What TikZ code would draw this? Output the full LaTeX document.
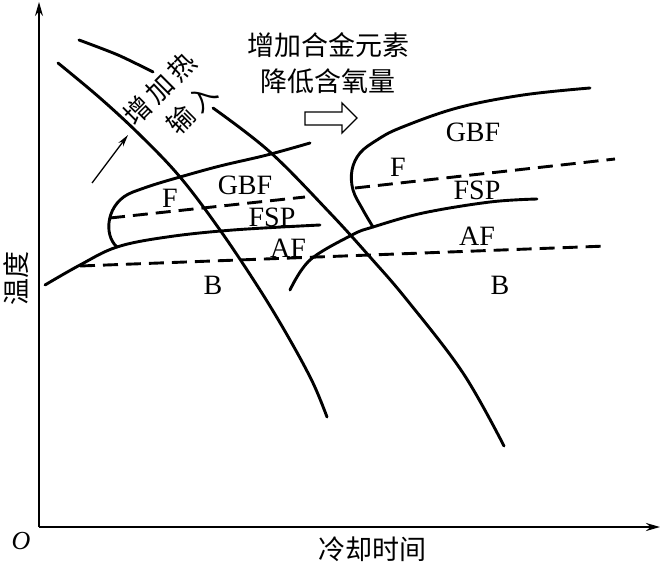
\documentclass[tikz,border=0pt]{standalone}
\usepackage{fontspec}
\setmainfont{Liberation Serif}
\newfontfamily\cjk{Noto Sans CJK SC}
\usetikzlibrary{arrows.meta}
\begin{document}
\begin{tikzpicture}[x=1pt,y=-1pt,
  curve/.style={line width=2.9pt,line cap=round,line join=round},
  dashline/.style={line width=2.9pt,dash pattern=on 15pt off 8pt},
  lab/.style={inner sep=0pt,font=\fontsize{28}{30}\selectfont},
  cjklab/.style={inner sep=0pt,font=\cjk\fontsize{27}{30}\selectfont},
  axis/.style={-{Stealth[length=14pt,width=8pt]}}]
\useasboundingbox (0,0) rectangle (660,564);
% axes
\coordinate (O) at (39,527);
\coordinate (ytop) at (39,2);
\coordinate (xend) at (660,527);
\draw[axis,line width=1.3pt] (O) -- (ytop);
\draw[axis,line width=2.2pt] (O) -- (xend);
\node[lab,font=\fontsize{26}{28}\selectfont\itshape] (olab) at (21,541) {O};
\node[cjklab] (xlab) at (372,549) {冷却时间};
\node[cjklab,rotate=90] (ylab) at (16,278) {温度};
% cooling curve 1
\draw[curve] plot[smooth,tension=0.6] coordinates {(58,63) (100,98) (140,135) (180,177) (220,230) (260,290) (290,340) (313,383) (327,417)};
% cooling curve 2
\draw[curve] plot[smooth] coordinates {(79,40) (118,55) (153,72)};
\draw[curve] plot[smooth,tension=0.6] coordinates {(213,108) (270,152) (330,213) (370,257) (407,300) (463,373) (504,446)};
% left loop
\draw[curve] plot[smooth,tension=0.6] coordinates {(310,143) (267,155) (220,166) (180,177) (153,185) (133,192)}
  .. controls (106,202) and (103,235) .. (117,247);
\draw[curve] plot[smooth,tension=0.6] coordinates {(45,285) (80,265) (117,247) (167,237) (233,230) (320,225)};
\draw[dashline] (110,218) -- (305,197);
\draw[dashline] (80,266) -- (607,246);
% right loop
\draw[curve] plot[smooth,tension=0.6] coordinates {(590,88) (523,95) (457,108) (400,128) (377,140) (360,153) (352,170) (353,190) (363,210) (373,227)};
\draw[curve] plot[smooth,tension=0.6] coordinates {(290,290) (310,260) (352,235) (373,227) (423,213) (490,202) (537,199)};
\draw[dashline] (355,188) -- (615,159);
% labels
\node[lab] (fL) at (170,198) {F};
\node[lab] (gbfL) at (245,185) {GBF};
\node[lab] (fspL) at (272,217) {FSP};
\node[lab] (afL) at (288,248) {AF};
\node[lab] (bL) at (213,285) {B};
\node[lab] (gbfR) at (473,132) {GBF};
\node[lab] (fR) at (398,167) {F};
\node[lab] (fspR) at (477,190) {FSP};
\node[lab] (afR) at (477,236) {AF};
\node[lab] (bR) at (500,285) {B};
% texts
\node[cjklab] (t1) at (328,45) {增加合金元素};
\node[cjklab] (t2) at (328,81) {降低含氧量};
\node[cjklab,rotate=45] (t3) at (160,89) {增\kern4pt加\kern4pt热};
\node[cjklab,rotate=45] (t4) at (192,109) {输\kern4pt入};
% small arrow
\coordinate (a1) at (92,183);
\coordinate (a2) at (128,135);
\draw[line width=1.3pt,-{Stealth[length=12pt,width=6pt]}] (a1) -- (a2);
% hollow arrow
\draw[line width=1.4pt,line join=miter] (305,112) -- (342,112) -- (342,103) -- (357,118) -- (342,133) -- (342,125) -- (305,125) -- cycle;
\end{tikzpicture}
\end{document}
